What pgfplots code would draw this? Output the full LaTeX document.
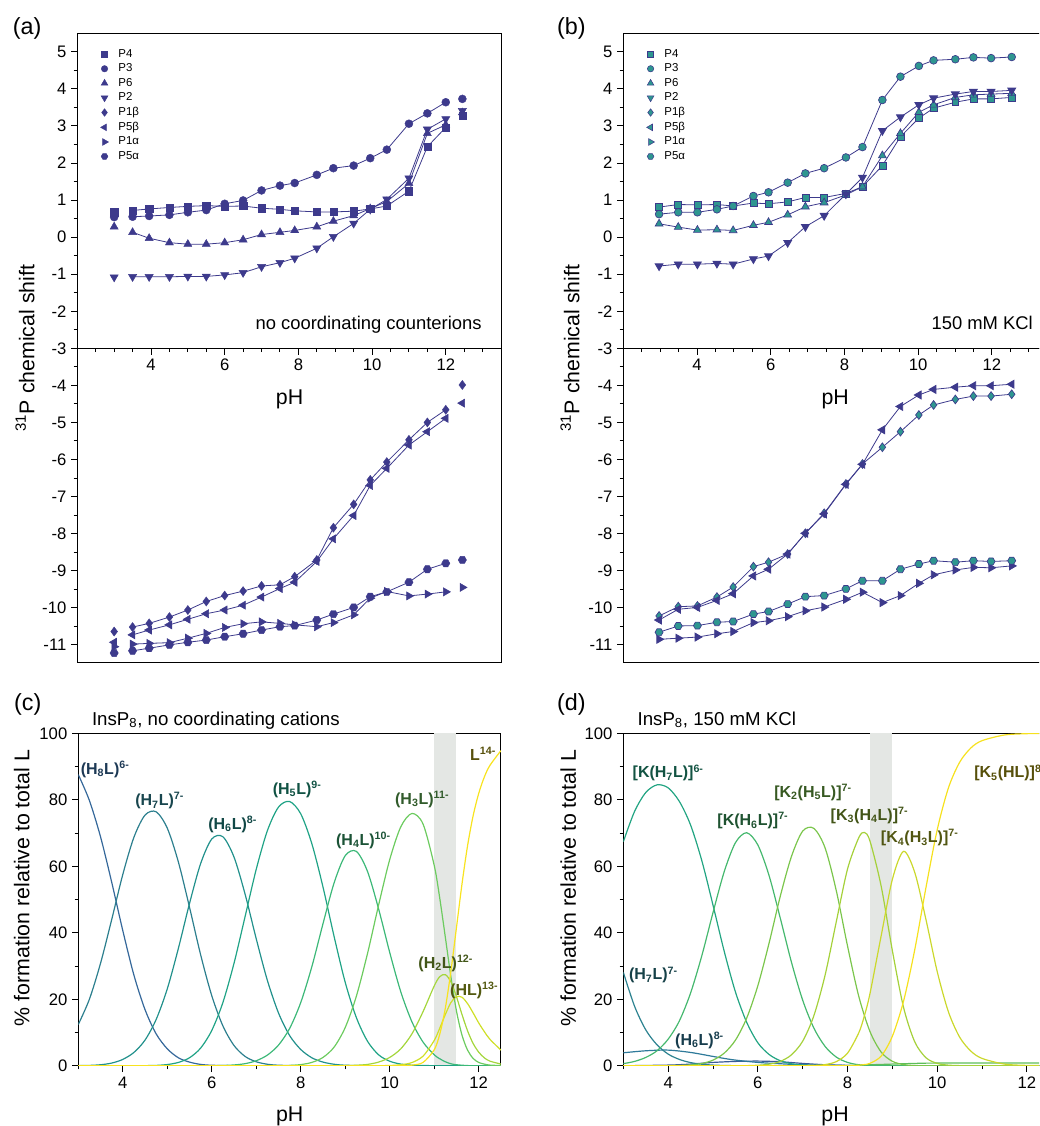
\documentclass[border=0pt]{standalone}
\usepackage{fontspec}
\setmainfont{Liberation Sans}
\usepackage{pgfplots}
\usepackage{pgfplotstable}
\pgfplotsset{compat=1.18}

\definecolor{pa}{HTML}{3D3A8C}
\definecolor{tealb}{HTML}{2E9690}
\definecolor{band}{HTML}{E4E7E4}
\definecolor{c1}{HTML}{35689A}
\definecolor{c2}{HTML}{2C7F8E}
\definecolor{c3}{HTML}{22918C}
\definecolor{c4}{HTML}{20A386}
\definecolor{c5}{HTML}{3CB878}
\definecolor{c6}{HTML}{6CCB5F}
\definecolor{c7}{HTML}{A4D63C}
\definecolor{c8}{HTML}{CFDF27}
\definecolor{c9}{HTML}{F8E31F}
\definecolor{dG}{HTML}{2C8290}
\definecolor{dA}{HTML}{23A583}
\definecolor{dH}{HTML}{2E7A9A}
\definecolor{dI}{HTML}{3B5B96}
\definecolor{dB}{HTML}{45B86E}
\definecolor{dC}{HTML}{7BC64C}
\definecolor{dD}{HTML}{A5D13A}
\definecolor{dE}{HTML}{CBD82C}
\definecolor{dF}{HTML}{F6E11E}
\definecolor{dJ}{HTML}{5DBE5A}

\pgfdeclareplotmark{hexagon*}{%
 \pgfpathmoveto{\pgfpointpolar{0}{\pgfplotmarksize}}%
 \pgfpathlineto{\pgfpointpolar{60}{\pgfplotmarksize}}%
 \pgfpathlineto{\pgfpointpolar{120}{\pgfplotmarksize}}%
 \pgfpathlineto{\pgfpointpolar{180}{\pgfplotmarksize}}%
 \pgfpathlineto{\pgfpointpolar{240}{\pgfplotmarksize}}%
 \pgfpathlineto{\pgfpointpolar{300}{\pgfplotmarksize}}%
 \pgfpathclose\pgfusepathqfillstroke}

\newcommand\tlfont{\fontsize{12.5}{14}\selectfont}
\newcommand\alfont{\fontsize{16}{18}\selectfont}

\tikzset{clab/.style={font=\fontsize{12}{14}\selectfont\bfseries, inner sep=0pt}}

\pgfplotsset{
  base/.style={scale only axis, anchor=north west,
    axis line style={line width=0.8pt, black},
    every tick/.style={black, line width=0.7pt},
    major tick length=4.7pt, minor tick length=2.8pt,
    tick align=outside, tick pos=left,
    /pgf/number format/assume math mode=true,
    tick label style={font=\tlfont}},
  top/.style={base, width=317.8pt, xmin=2, xmax=13.5},
  upper/.style={top, height=236.25pt, ymin=-3, ymax=5.5, ytick={-3,...,5},
    minor y tick num=1, xtick={4,6,8,10,12}, minor xtick={2.5,3,...,13}},
  lower/.style={top, height=235.8pt, ymin=-11.48, ymax=-3, ytick={-11,...,-4},
    minor ytick={-10.5,-9.5,-8.5,-7.5,-6.5,-5.5,-4.5,-3.5}, xtick=\empty},
  spec/.style={base, height=249.3pt, xmin=3, xmax=12.5, ymin=0, ymax=100,
    xtick={4,6,8,10,12}, minor xtick={3,5,7,9,11}, ytick={0,20,...,100},
    minor ytick={10,30,50,70,90}},
  lineA/.style={no marks, color=pa, line width=0.6pt, forget plot},
  markA/.style={only marks, color=pa, forget plot, mark options={fill=pa, draw=pa, line width=0.3pt}},
  lineB/.style={color=pa, line width=0.6pt, forget plot, mark options={fill=tealb, draw=pa, line width=0.5pt}},
  cv/.style={smooth, no marks, line width=0.9pt},
  leg/.style={legend style={draw=none, fill=none, at={(axis cs:2.58,5.1)}, anchor=north west,
    font=\fontsize{8.6}{9.4}\selectfont, row sep=2.0pt, inner sep=0pt, nodes={inner sep=0.7pt, anchor=west}},
    legend cell align=left,
    legend image code/.code={\path (0pt,-2pt) (13.5pt,2pt); \draw[##1] plot coordinates {(4pt,0pt)};}}
}

\pgfplotstableread{
pH P4 P3 P6 P2
3.0 0.67 0.54 0.28 -1.08
3.5 0.72 0.55 0.13 -1.07
3.95 0.76 0.57 -0.03 -1.07
4.5 0.80 0.60 -0.15 -1.07
5.0 0.83 0.67 -0.19 -1.06
5.5 0.85 0.73 -0.19 -1.06
6.0 0.83 0.90 -0.15 -1.02
6.5 0.84 0.99 -0.07 -0.96
7.0 0.78 1.26 0.07 -0.80
7.5 0.75 1.39 0.13 -0.69
7.9 0.71 1.46 0.18 -0.57
8.5 0.68 1.68 0.28 -0.30
8.95 0.68 1.86 0.43 0.01
9.5 0.70 1.93 0.58 0.37
9.95 0.76 2.13 0.77 0.75
10.4 0.84 2.36 0.96 1.02
11.0 1.24 3.06 1.45 1.59
11.5 2.44 3.34 2.80 2.91
12.0 2.96 3.64 3.03 3.19
12.45 3.28 3.73 3.36 3.41
}\tabAup

\pgfplotstableread{
pH P1b P5b P1a P5a
3.0 -10.64 -10.93 -11.05 -11.22
3.5 -10.52 -10.73 -10.98 -11.16
3.95 -10.42 -10.60 -10.96 -11.09
4.5 -10.25 -10.46 -10.94 -11.00
5.0 -10.06 -10.31 -10.82 -10.93
5.5 -9.83 -10.16 -10.69 -10.87
6.0 -9.67 -10.06 -10.53 -10.78
6.5 -9.55 -9.93 -10.43 -10.70
7.0 -9.41 -9.71 -10.38 -10.60
7.5 -9.38 -9.48 -10.42 -10.51
7.9 -9.16 -9.31 -10.46 -10.48
8.5 -8.71 -8.75 -10.51 -10.33
8.95 -7.84 -8.14 -10.40 -10.17
9.5 -7.21 -7.51 -10.19 -9.99
9.95 -6.55 -6.70 -9.74 -9.70
10.4 -6.07 -6.24 -9.56 -9.57
11.0 -5.47 -5.61 -9.68 -9.31
11.5 -5.00 -5.25 -9.63 -8.96
12.0 -4.66 -4.89 -9.57 -8.80
12.45 -3.99 -4.48 -9.45 -8.71
}\tabAlow

\pgfplotstableread{
pH P4 P3 P6 P2
2.97 0.81 0.62 0.36 -0.78
3.49 0.88 0.67 0.27 -0.73
4.01 0.87 0.67 0.19 -0.73
4.54 0.88 0.75 0.20 -0.71
4.98 0.84 0.84 0.18 -0.73
5.53 0.92 1.11 0.32 -0.59
5.94 0.90 1.21 0.40 -0.51
6.46 0.95 1.47 0.60 -0.15
6.94 1.07 1.72 0.82 0.28
7.45 1.07 1.86 0.93 0.58
8.04 1.18 2.15 1.14 1.16
8.49 1.36 2.43 1.36 1.61
9.03 1.93 3.70 2.20 2.87
9.52 2.71 4.33 2.80 3.24
10.02 3.21 4.62 3.37 3.57
10.42 3.48 4.77 3.57 3.75
11.01 3.64 4.80 3.77 3.86
11.50 3.73 4.85 3.84 3.93
11.98 3.73 4.83 3.86 3.93
12.54 3.77 4.86 3.88 3.96
}\tabBup

\pgfplotstableread{
pH P1b P5b P1a P5a
2.97 -10.22 -10.33 -10.85 -10.66
3.49 -9.97 -10.04 -10.82 -10.49
4.01 -9.95 -9.99 -10.79 -10.48
4.54 -9.71 -9.80 -10.70 -10.39
4.98 -9.44 -9.62 -10.64 -10.37
5.53 -8.89 -9.14 -10.40 -10.17
5.94 -8.77 -8.96 -10.35 -10.10
6.46 -8.55 -8.55 -10.24 -9.90
6.94 -7.99 -7.99 -10.08 -9.70
7.45 -7.45 -7.47 -9.98 -9.67
8.04 -6.66 -6.67 -9.77 -9.49
8.49 -6.12 -6.13 -9.58 -9.27
9.03 -5.67 -5.20 -9.86 -9.27
9.52 -5.25 -4.57 -9.67 -8.96
10.02 -4.80 -4.26 -9.34 -8.82
10.42 -4.53 -4.11 -9.11 -8.73
11.01 -4.38 -4.05 -8.98 -8.77
11.50 -4.29 -4.01 -8.91 -8.73
11.98 -4.29 -4.01 -8.92 -8.75
12.54 -4.24 -3.97 -8.87 -8.73
}\tabBlow

\begin{document}
\begin{tikzpicture}
\path[use as bounding box] (0,0) rectangle (779.25pt,-844.5pt);
\clip (0,0) rectangle (779.25pt,-844.5pt);

% ---------------- (a) upper
\begin{axis}[upper, leg, at={(57.98pt,-24.98pt)}]
\addplot[lineA, skip coords between index={0}{1}, skip coords between index={19}{20}] table[x=pH,y=P4]{\tabAup};
\addplot[lineA, skip coords between index={0}{1}, skip coords between index={19}{20}] table[x=pH,y=P3]{\tabAup};
\addplot[lineA, skip coords between index={0}{1}, skip coords between index={19}{20}] table[x=pH,y=P6]{\tabAup};
\addplot[lineA, skip coords between index={0}{1}, skip coords between index={19}{20}] table[x=pH,y=P2]{\tabAup};
\addplot[markA, mark=square*, mark size=2.7pt] table[x=pH,y=P4]{\tabAup};
\addplot[markA, mark=*, mark size=3.0pt] table[x=pH,y=P3]{\tabAup};
\addplot[markA, mark=triangle*, mark size=3.5pt] table[x=pH,y=P6]{\tabAup};
\addplot[markA, mark=triangle*, mark size=3.5pt, mark options={rotate=180}] table[x=pH,y=P2]{\tabAup};
\addlegendimage{color=pa, mark=square*, mark size=2.2pt, mark options={fill=pa}}
\addlegendimage{color=pa, mark=*, mark size=2.4pt, mark options={fill=pa}}
\addlegendimage{color=pa, mark=triangle*, mark size=2.9pt, mark options={fill=pa}}
\addlegendimage{color=pa, mark=triangle*, mark size=2.9pt, mark options={fill=pa, rotate=180}}
\addlegendimage{color=pa, mark=diamond*, mark size=2.8pt, mark options={fill=pa}}
\addlegendimage{color=pa, mark=triangle*, mark size=2.9pt, mark options={fill=pa, rotate=90}}
\addlegendimage{color=pa, mark=triangle*, mark size=2.9pt, mark options={fill=pa, rotate=-90}}
\addlegendimage{color=pa, mark=hexagon*, mark size=2.5pt, mark options={fill=pa}}
\legend{P4,P3,P6,P2,P1β,P5β,P1α,P5α}
\node[anchor=base east, font=\fontsize{13.8}{16}\selectfont, inner sep=0pt] at (axis cs:12.98,-2.505) {no coordinating counterions};
\end{axis}

% ---------------- (a) lower
\begin{axis}[lower, at={(57.98pt,-261.2pt)}]
\addplot[lineA, skip coords between index={0}{1}, skip coords between index={19}{20}] table[x=pH,y=P1b]{\tabAlow};
\addplot[lineA, skip coords between index={0}{1}, skip coords between index={19}{20}] table[x=pH,y=P5b]{\tabAlow};
\addplot[lineA, skip coords between index={0}{1}, skip coords between index={19}{20}] table[x=pH,y=P1a]{\tabAlow};
\addplot[lineA, skip coords between index={0}{1}, skip coords between index={19}{20}] table[x=pH,y=P5a]{\tabAlow};
\addplot[markA, mark=diamond*, mark size=3.4pt] table[x=pH,y=P1b]{\tabAlow};
\addplot[markA, mark=triangle*, mark size=3.5pt, mark options={rotate=90}] table[x=pH,y=P5b]{\tabAlow};
\addplot[markA, mark=triangle*, mark size=3.5pt, mark options={rotate=-90}] table[x=pH,y=P1a]{\tabAlow};
\addplot[markA, mark=hexagon*, mark size=3.1pt] table[x=pH,y=P5a]{\tabAlow};
\node[font=\alfont] at (axis cs:7.76,-4.38) {pH};
\end{axis}

% ---------------- (b) upper
\begin{axis}[upper, leg, at={(467.5pt,-24.98pt)}]
\addplot[lineB, mark=square*, mark size=2.6pt] table[x=pH,y=P4]{\tabBup};
\addplot[lineB, mark=*, mark size=2.9pt] table[x=pH,y=P3]{\tabBup};
\addplot[lineB, mark=triangle*, mark size=3.4pt] table[x=pH,y=P6]{\tabBup};
\addplot[lineB, mark=triangle*, mark size=3.4pt, mark options={rotate=180}] table[x=pH,y=P2]{\tabBup};
\addlegendimage{color=pa, mark=square*, mark size=2.2pt, mark options={fill=tealb, line width=0.4pt}}
\addlegendimage{color=pa, mark=*, mark size=2.4pt, mark options={fill=tealb, line width=0.4pt}}
\addlegendimage{color=pa, mark=triangle*, mark size=2.9pt, mark options={fill=tealb, line width=0.4pt}}
\addlegendimage{color=pa, mark=triangle*, mark size=2.9pt, mark options={fill=tealb, line width=0.4pt, rotate=180}}
\addlegendimage{color=pa, mark=diamond*, mark size=2.8pt, mark options={fill=tealb, line width=0.4pt}}
\addlegendimage{color=pa, mark=triangle*, mark size=2.9pt, mark options={fill=tealb, line width=0.4pt, rotate=90}}
\addlegendimage{color=pa, mark=triangle*, mark size=2.9pt, mark options={fill=tealb, line width=0.4pt, rotate=-90}}
\addlegendimage{color=pa, mark=hexagon*, mark size=2.5pt, mark options={fill=tealb, line width=0.4pt}}
\legend{P4,P3,P6,P2,P1β,P5β,P1α,P5α}
\node[anchor=base east, font=\fontsize{13.8}{16}\selectfont, inner sep=0pt] at (axis cs:13.12,-2.505) {150 mM KCl};
\end{axis}

% ---------------- (b) lower
\begin{axis}[lower, at={(467.5pt,-261.2pt)}]
\addplot[lineB, mark=diamond*, mark size=3.3pt] table[x=pH,y=P1b]{\tabBlow};
\addplot[lineB, mark=triangle*, mark size=3.4pt, mark options={rotate=90}] table[x=pH,y=P5b]{\tabBlow};
\addplot[lineB, mark=triangle*, mark size=3.4pt, mark options={rotate=-90}] table[x=pH,y=P1a]{\tabBlow};
\addplot[lineB, mark=hexagon*, mark size=3.0pt] table[x=pH,y=P5a]{\tabBlow};
\node[font=\alfont] at (axis cs:7.75,-4.38) {pH};
\end{axis}

% ---------------- (c)
\begin{axis}[spec, width=317pt, at={(58.7pt,-550pt)}]
\fill[band] (axis cs:11,0) rectangle (axis cs:11.5,100);
\addplot[cv, c1] coordinates {(3,87.6)(3.25,79.8)(3.5,68.9)(3.75,55.3)(4,40.7)(4.25,27.3)(4.5,16.9)(4.75,9.6)(5,5.1)(5.25,2.4)(5.5,1.1)(5.75,0.4)(6,0.15)(6.5,0.02)(7,0)(12.5,0)};
\addplot[cv, c2] coordinates {(3,12.4)(3.25,20.0)(3.5,30.8)(3.75,43.9)(4,57.5)(4.25,68.7)(4.5,75.4)(4.75,76.4)(5,71.5)(5.25,61.3)(5.5,47.7)(5.75,33.4)(6,21.1)(6.25,12.0)(6.5,6.1)(6.75,2.8)(7,1.2)(7.25,0.45)(7.5,0.16)(8,0.02)(8.5,0)(12.5,0)};
\addplot[cv, c3] coordinates {(3,0.04)(3.25,0.1)(3.5,0.3)(3.75,0.8)(4,1.9)(4.25,4.0)(4.5,7.7)(4.75,13.9)(5,23.1)(5.25,35.3)(5.5,48.8)(5.75,60.8)(6,68.2)(6.25,68.9)(6.5,62.8)(6.75,51.6)(7,38.2)(7.25,25.7)(7.5,15.9)(7.75,9.1)(8,4.9)(8.25,2.4)(8.5,1.1)(8.75,0.45)(9,0.16)(9.5,0.02)(10,0)(12.5,0)};
\addplot[cv, c4] coordinates {(3,0)(4.5,0.04)(4.75,0.1)(5,0.36)(5.25,1.0)(5.5,2.4)(5.75,5.3)(6,10.6)(6.25,19.0)(6.5,30.8)(6.75,44.9)(7,59.1)(7.25,70.7)(7.5,77.8)(7.75,79.5)(8,75.8)(8.25,66.8)(8.5,53.8)(8.75,38.9)(9,25.1)(9.25,14.5)(9.5,7.4)(9.75,3.3)(10,1.36)(10.25,0.5)(10.5,0.17)(11,0.02)(11.5,0)(12.5,0)};
\addplot[cv, c5] coordinates {(3,0)(5.5,0)(6,0.03)(6.25,0.08)(6.5,0.24)(6.75,0.63)(7,1.5)(7.25,3.2)(7.5,6.2)(7.75,11.2)(8,19.0)(8.25,29.8)(8.5,42.7)(8.75,55.0)(9,63.2)(9.25,64.5)(9.5,58.5)(9.75,47.2)(10,34.1)(10.25,22.2)(10.5,13.2)(10.75,7.1)(11,3.3)(11.125,2.1)(11.25,1.2)(11.375,0.6)(11.5,0.3)(11.75,0.05)(12,0)(12.5,0)};
\addplot[cv, c6] coordinates {(3,0)(7.5,0)(7.75,0.1)(8,0.35)(8.25,1.0)(8.5,2.5)(8.75,5.6)(9,11.5)(9.25,20.9)(9.5,33.7)(9.75,48.3)(10,62.0)(10.25,71.9)(10.5,75.9)(10.75,72.7)(11,60.3)(11.125,50.4)(11.25,38.7)(11.375,26.8)(11.5,16.5)(11.625,9.2)(11.75,4.7)(11.875,2.2)(12,1.0)(12.125,0.5)(12.25,0.2)(12.5,0.05)};
\addplot[cv, c7] coordinates {(3,0)(8.75,0)(9,0.05)(9.25,0.15)(9.5,0.4)(9.75,1.1)(10,2.5)(10.25,5.1)(10.5,9.6)(10.75,16.3)(11,24.0)(11.125,26.8)(11.25,27.4)(11.375,25.3)(11.5,20.8)(11.625,15.4)(11.75,10.5)(11.875,6.7)(12,4.1)(12.125,2.4)(12.25,1.4)(12.5,0.5)};
\addplot[cv, c8] coordinates {(3,0)(9.5,0)(9.75,0.02)(10,0.08)(10.25,0.3)(10.5,0.96)(10.75,2.9)(11,7.6)(11.125,11.3)(11.25,15.4)(11.375,19.0)(11.5,20.8)(11.625,20.6)(11.75,18.7)(11.875,15.9)(12,12.9)(12.125,10.3)(12.25,8.0)(12.5,4.7)};
\addplot[cv, c9] coordinates {(3,0)(10,0)(10.25,0.03)(10.5,0.19)(10.75,1.0)(11,4.8)(11.125,9.5)(11.25,17.3)(11.375,28.4)(11.5,41.5)(11.625,54.7)(11.75,66.2)(11.875,75.2)(12,81.9)(12.125,86.8)(12.25,90.3)(12.5,94.8)};
\node[clab, text=c1!55!black, anchor=west] at (axis cs:3.05,89.2) {(H\textsubscript{8}L)\textsuperscript{6-}};
\node[clab, text=c2!55!black] at (axis cs:4.83,79.7) {(H\textsubscript{7}L)\textsuperscript{7-}};
\node[clab, text=c3!50!black] at (axis cs:6.47,72.7) {(H\textsubscript{6}L)\textsuperscript{8-}};
\node[clab, text=c4!50!black] at (axis cs:7.92,83.1) {(H\textsubscript{5}L)\textsuperscript{9-}};
\node[clab, text=c5!45!black] at (axis cs:9.41,67.9) {(H\textsubscript{4}L)\textsuperscript{10-}};
\node[clab, text=c6!45!black] at (axis cs:10.73,80.2) {(H\textsubscript{3}L)\textsuperscript{11-}};
\node[clab, text=c7!40!black] at (axis cs:11.26,30.8) {(H\textsubscript{2}L)\textsuperscript{12-}};
\node[clab, text=c8!40!black] at (axis cs:11.90,22.6) {(HL)\textsuperscript{13-}};
\node[clab, text=c9!35!black] at (axis cs:12.10,93.8) {L\textsuperscript{14-}};
\end{axis}

% ---------------- (d)
\begin{axis}[spec, width=319.5pt, at={(467.5pt,-550pt)}]
\fill[band] (axis cs:8.5,0) rectangle (axis cs:9,100);
\addplot[cv, dJ] coordinates {(3,0)(7.5,0)(8.5,0.3)(9,0.5)(9.5,0.7)(10,0.8)(12.5,0.8)};
\addplot[cv, dI] coordinates {(3,0)(4,0.2)(4.5,0.5)(5,1.0)(5.5,1.3)(6,1.4)(6.5,1.2)(7,0.7)(7.5,0.3)(8,0.1)(8.5,0)(12.5,0)};
\addplot[cv, dH] coordinates {(3,3.9)(3.5,4.5)(4,4.7)(4.5,4.0)(5,2.8)(5.25,2.2)(5.5,1.7)(6,1.0)(6.5,0.6)(7,0.3)(8,0.1)(9,0)(12.5,0)};
\addplot[cv, dG] coordinates {(3,28.1)(3.25,17.9)(3.5,10.8)(3.75,6.3)(4,3.5)(4.25,1.9)(4.5,0.95)(4.75,0.46)(5,0.2)(5.25,0.08)(5.5,0.03)(6,0)(12.5,0)};
\addplot[cv, dA] coordinates {(3,67.4)(3.25,76.5)(3.5,82.2)(3.75,84.5)(4,83.6)(4.25,79.5)(4.5,72.4)(4.75,61.7)(5,48.3)(5.25,34.4)(5.5,22.2)(5.75,13.1)(6,6.9)(6.25,3.4)(6.5,1.5)(6.75,0.6)(7,0.2)(7.5,0.02)(8,0)(12.5,0)};
\addplot[cv, dB] coordinates {(3,0.64)(3.25,1.3)(3.5,2.5)(3.75,4.5)(4,8.0)(4.25,13.5)(4.5,21.9)(4.75,33.1)(5,46.1)(5.25,58.4)(5.5,67.1)(5.75,70.1)(6,66.4)(6.25,57.2)(6.5,44.4)(6.75,31.1)(7,19.7)(7.25,11.3)(7.5,5.8)(7.75,2.6)(8,1.0)(8.25,0.3)(8.5,0.09)(9,0)(12.5,0)};
\addplot[cv, dC] coordinates {(3,0)(3.75,0.01)(4,0.03)(4.25,0.09)(4.5,0.25)(4.75,0.67)(5,1.7)(5.25,3.8)(5.5,7.7)(5.75,14.3)(6,24.1)(6.25,36.9)(6.5,51.0)(6.75,63.0)(7,70.6)(7.25,71.4)(7.5,65.5)(7.75,52.6)(8,36.0)(8.25,20.9)(8.5,10.3)(8.75,4.1)(9,1.33)(9.25,0.34)(9.5,0.07)(10,0)(12.5,0)};
\addplot[cv, dD] coordinates {(3,0)(5.5,0.01)(6,0.16)(6.25,0.48)(6.5,1.3)(6.75,3.3)(7,7.4)(7.25,15.1)(7.5,27.3)(7.75,43.4)(8,59.2)(8.25,68.6)(8.375,70.2)(8.5,67.6)(8.75,54.0)(9,34.6)(9.25,17.5)(9.5,7.15)(9.75,2.4)(10,0.7)(10.25,0.18)(10.5,0.04)(11,0)(12.5,0)};
\addplot[cv, dE] coordinates {(3,0)(6.5,0)(7,0.03)(7.25,0.09)(7.5,0.35)(7.75,1.25)(8,3.8)(8.25,9.9)(8.375,15.0)(8.5,21.7)(8.75,39.1)(9,56.1)(9.25,64.5)(9.5,58.1)(9.75,43.9)(10,28.3)(10.25,16.2)(10.5,8.6)(10.75,4.4)(11,2.2)(11.5,0.5)(12,0.1)(12.5,0.03)};
\addplot[cv, dF] coordinates {(3,0)(7.5,0)(8,0.03)(8.25,0.16)(8.375,0.35)(8.5,0.73)(8.75,2.9)(9,8.9)(9.25,19.5)(9.5,35.0)(9.75,53.7)(10,71.0)(10.25,83.6)(10.5,91.3)(10.75,95.6)(11,97.8)(11.5,99.5)(12,99.9)(12.5,100)};
\node[clab, text=dA!50!black] at (axis cs:4.0,88.1) {[K(H\textsubscript{7}L)]\textsuperscript{6-}};
\node[clab, text=dG!50!black] at (axis cs:3.67,27.3) {(H\textsubscript{7}L)\textsuperscript{7-}};
\node[clab, text=dH!50!black] at (axis cs:4.70,7.7) {(H\textsubscript{6}L)\textsuperscript{8-}};
\node[clab, text=dB!45!black] at (axis cs:5.89,73.7) {[K(H\textsubscript{6}L)]\textsuperscript{7-}};
\node[clab, text=dC!45!black] at (axis cs:7.23,82.2) {[K\textsubscript{2}(H\textsubscript{5}L)]\textsuperscript{7-}};
\node[clab, text=dD!40!black] at (axis cs:8.49,75.4) {[K\textsubscript{3}(H\textsubscript{4}L)]\textsuperscript{7-}};
\node[clab, text=dE!40!black] at (axis cs:9.61,68.6) {[K\textsubscript{4}(H\textsubscript{3}L)]\textsuperscript{7-}};
\node[clab, text=dF!35!black, anchor=west] at (axis cs:10.82,88.1) {[K\textsubscript{5}(HL)]\textsuperscript{8-}};
\end{axis}

% ---------------- labels outside axes
\node[font=\fontsize{17.5}{20}\selectfont] at (20.4pt,-21.6pt) {(a)};
\node[font=\fontsize{17.5}{20}\selectfont] at (428.5pt,-21.6pt) {(b)};
\node[font=\fontsize{17.5}{20}\selectfont] at (20.8pt,-528.1pt) {(c)};
\node[font=\fontsize{17.5}{20}\selectfont] at (428.5pt,-528.1pt) {(d)};
\node[font=\alfont, rotate=90] at (18.75pt,-261pt) {\textsuperscript{31}P chemical shift};
\node[font=\alfont, rotate=90] at (427.5pt,-261pt) {\textsuperscript{31}P chemical shift};
\node[font=\alfont, rotate=90] at (16.3pt,-666pt) {\% formation relative to total L};
\node[font=\alfont, rotate=90] at (426.2pt,-666pt) {\% formation relative to total L};
\node[font=\alfont] at (217.3pt,-837pt) {pH};
\node[font=\alfont] at (626.3pt,-837pt) {pH};
\node[font=\fontsize{14}{16}\selectfont, anchor=base west, inner sep=0pt] at (68.8pt,-543.75pt) {InsP\textsubscript{8}, no coordinating cations};
\node[font=\fontsize{14}{16}\selectfont, anchor=base west, inner sep=0pt] at (478pt,-543.75pt) {InsP\textsubscript{8}, 150 mM KCl};
\end{tikzpicture}
\end{document}
